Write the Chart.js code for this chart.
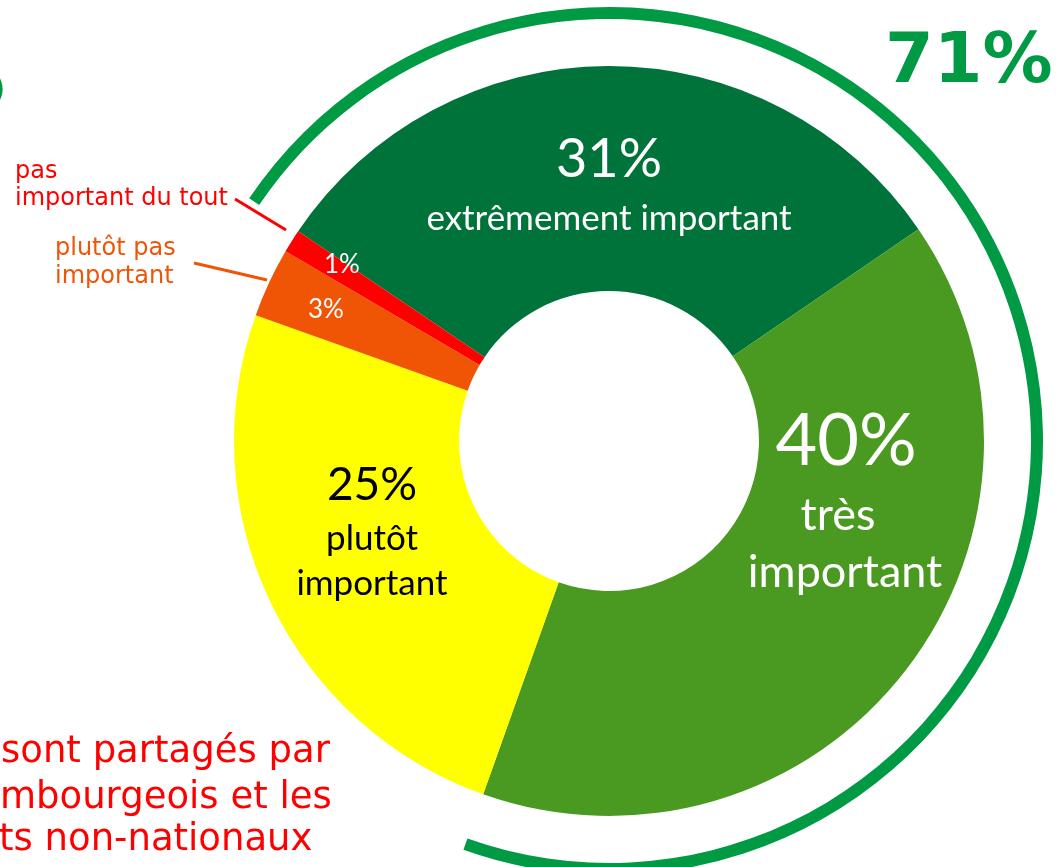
<!DOCTYPE html>
<html lang="fr">
<head>
<meta charset="utf-8">
<title>Importance</title>
<script src="https://cdn.jsdelivr.net/npm/chart.js@4/dist/chart.umd.min.js"></script>
<style>
html, body { margin: 0; padding: 0; background: #fff; overflow: hidden; }
#graphique { display: block; }
</style>
</head>
<body>
<canvas id="graphique" width="1056" height="867"></canvas>
<script>
// ======================================
// Données
// ======================================

const categories = [
  "extrêmement important",
  "très important",
  "plutôt important",
  "plutôt pas important",
  "pas important du tout"
];

const valeurs = [31, 40, 25, 3, 1];

const couleurs = ["#00733A", "#4A9A21", "#FFFF00", "#F05405", "#FF0000"];

// anneau extérieur : extrêmement + très important
const groupeImportant = [71, 29];


// ======================================
// Textes et repères (style)
// ======================================

// position des textes par rapport au centre du graphique
const textesParts = [
  [
    { t: "31%", dx: 0, dy: -264, size: 54, color: "#fff" },
    { t: "extrêmement important", dx: 0, dy: -211, size: 35, color: "#fff" }
  ],
  [
    { t: "40%", dx: 237, dy: 24, size: 72, color: "#fff" },
    { t: "très", dx: 229, dy: 89, size: 45, color: "#fff" },
    { t: "important", dx: 236, dy: 146, size: 45, color: "#fff" }
  ],
  [
    { t: "25%", dx: -237, dy: 59, size: 46, color: "#000" },
    { t: "plutôt", dx: -237, dy: 109, size: 35, color: "#000" },
    { t: "important", dx: -237, dy: 154, size: 35, color: "#000" }
  ],
  [
    { t: "3%", dx: -283, dy: -123, size: 26, color: "#fff" }
  ],
  [
    { t: "1%", dx: -267, dy: -168, size: 26, color: "#fff" }
  ]
];

const pluginTextes = {
  id: "textes",
  afterDatasetsDraw(chart) {
    const ctx = chart.ctx;
    const meta = chart.getDatasetMeta(2);
    ctx.save();
    ctx.textBaseline = "alphabetic";

    meta.data.forEach((arc, i) => {
      textesParts[i].forEach(l => {
        ctx.font = l.size + "px Lato";
        ctx.fillStyle = l.color;
        ctx.textAlign = "center";
        ctx.fillText(l.t, arc.x + l.dx, arc.y + l.dy);
      });
    });

    // étiquettes extérieures
    ctx.textAlign = "left";
    ctx.font = "24px 'DejaVu Sans'";
    ctx.fillStyle = couleurs[4];
    ctx.fillText("pas", 15, 178);
    ctx.fillText("important du tout", 15, 205);
    ctx.fillStyle = couleurs[3];
    ctx.fillText("plutôt pas", 55, 255);
    ctx.fillText("important", 55, 283);

    ctx.lineWidth = 3;
    ctx.strokeStyle = couleurs[4];
    ctx.beginPath();
    ctx.moveTo(235, 199);
    ctx.lineTo(286, 230);
    ctx.stroke();
    ctx.strokeStyle = couleurs[3];
    ctx.beginPath();
    ctx.moveTo(194, 263);
    ctx.lineTo(267, 280);
    ctx.stroke();

    // 71%
    ctx.font = "bold 70px 'DejaVu Sans'";
    ctx.fillStyle = "#009A44";
    ctx.fillText("71%", 885, 82);
    ctx.font = "bold 34px 'DejaVu Sans'";
    ctx.fillText(")", -10, 100);

    // texte en bas à gauche
    ctx.font = "37px 'DejaVu Sans'";
    ctx.fillStyle = "#FF0000";
    ctx.fillText("sont partagés par", 1, 762);
    ctx.fillText("mbourgeois et les", 0, 808);
    ctx.fillText("ts non-nationaux", -1, 850);

    ctx.restore();
  }
};


// ======================================
// Graphique
// ======================================

const graphique = document.getElementById("graphique");

new Chart(graphique, {

  type: "doughnut",

  data: {
    labels: categories,
    datasets: [
      {
        data: groupeImportant,
        backgroundColor: ["#009A44", "rgba(0,0,0,0)"],
        weight: 12
      },
      {
        data: [100],
        backgroundColor: ["rgba(0,0,0,0)"],
        weight: 47
      },
      {
        data: valeurs,
        backgroundColor: couleurs,
        weight: 225
      }
    ]
  },

  options: {
    responsive: false,
    devicePixelRatio: 1,
    animation: false,
    events: [],
    rotation: -56,
    radius: 434,
    cutout: "34.56%",
    borderWidth: 0,
    hoverOffset: 0,
    layout: {
      padding: { left: 162, right: 0, top: 15, bottom: 0 }
    },
    datasets: {
      doughnut: { clip: false, borderWidth: 0, hoverOffset: 0 }
    },
    plugins: {
      legend: { display: false },
      tooltip: { enabled: false }
    }
  },

  plugins: [pluginTextes]

});
</script>
</body>
</html>
